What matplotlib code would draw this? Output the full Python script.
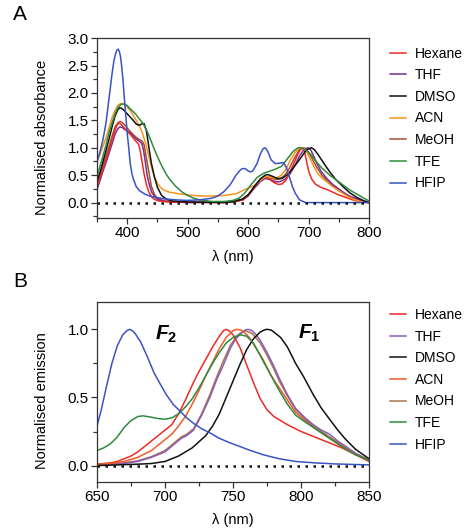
import numpy as np
import matplotlib
matplotlib.use("Agg")
import matplotlib.pyplot as plt
from matplotlib.ticker import MultipleLocator

plt.rcParams['font.family'] = ['Liberation Sans', 'DejaVu Sans']
plt.rcParams['mathtext.fontset'] = 'custom'
plt.rcParams['mathtext.rm'] = 'Liberation Sans'
plt.rcParams['mathtext.bf'] = 'Liberation Sans:bold'
plt.rcParams['mathtext.it'] = 'Liberation Sans:italic'
plt.rcParams['mathtext.bfit'] = 'Liberation Sans:bold:italic'

solvents = ['Hexane', 'THF', 'DMSO', 'ACN', 'MeOH', 'TFE', 'HFIP']
colors_abs = ['#ee2a24', '#7b2d92', '#111111', '#f7941d', '#a0522d', '#2e8b3e', '#3953c4']
colors_em = ['#ee2a24', '#8a5cb8', '#111111', '#f15a29', '#a8744a', '#2e8b3e', '#3953c4']

# ---- panel A: normalised absorbance (wavelength nm, value)
abs_hexane_x = [350, 355, 360, 365, 370, 375, 380, 383, 386, 390, 396, 402, 407, 412, 416, 419, 422, 425, 428, 432, 436, 440, 445, 452, 470, 560, 580, 592, 600, 610, 620, 625, 628, 632, 635, 642, 650, 656, 662, 668, 675, 682, 686, 690, 693, 696, 700, 705, 712, 720, 730, 740, 750, 760, 770, 780, 790, 800]
abs_hexane_y = [0.29, 0.45, 0.62, 0.79, 0.96, 1.15, 1.32, 1.41, 1.45, 1.43, 1.35, 1.28, 1.22, 1.15, 1.10, 1.06, 0.92, 0.72, 0.52, 0.32, 0.19, 0.11, 0.06, 0.03, 0.01, 0.0, 0.02, 0.05, 0.13, 0.28, 0.41, 0.45, 0.47, 0.46, 0.43, 0.37, 0.33, 0.34, 0.40, 0.52, 0.70, 0.88, 0.96, 1.0, 0.94, 0.79, 0.58, 0.43, 0.33, 0.28, 0.24, 0.19, 0.14, 0.10, 0.06, 0.03, 0.01, 0.0]

abs_thf_x = [350, 355, 360, 365, 370, 375, 380, 385, 388, 392, 395, 400, 405, 410, 415, 420, 424, 427, 430, 433, 437, 441, 446, 452, 465, 500, 575, 590, 600, 610, 620, 628, 636, 645, 652, 660, 668, 676, 685, 692, 696, 699, 703, 708, 713, 720, 730, 740, 752, 765, 779, 790, 800]
abs_thf_y = [0.23, 0.40, 0.57, 0.73, 0.90, 1.07, 1.25, 1.35, 1.38, 1.37, 1.34, 1.31, 1.27, 1.21, 1.16, 1.12, 1.08, 0.96, 0.74, 0.50, 0.31, 0.18, 0.10, 0.05, 0.02, 0.0, 0.01, 0.05, 0.12, 0.26, 0.38, 0.44, 0.42, 0.38, 0.38, 0.42, 0.50, 0.65, 0.85, 0.96, 0.99, 1.0, 0.97, 0.86, 0.73, 0.58, 0.44, 0.33, 0.23, 0.13, 0.07, 0.03, 0.0]

abs_dmso_x = [350, 355, 360, 365, 370, 375, 380, 385, 388, 392, 395, 400, 405, 410, 415, 420, 425, 428, 432, 436, 440, 445, 450, 457, 465, 475, 500, 560, 575, 590, 600, 610, 620, 628, 633, 640, 648, 656, 665, 672, 680, 688, 695, 700, 705, 710, 716, 725, 735, 745, 757, 768, 779, 790, 800]
abs_dmso_y = [0.38, 0.55, 0.75, 0.95, 1.16, 1.38, 1.58, 1.70, 1.73, 1.71, 1.68, 1.62, 1.56, 1.50, 1.43, 1.41, 1.44, 1.44, 1.30, 1.00, 0.72, 0.47, 0.28, 0.13, 0.06, 0.03, 0.01, 0.0, 0.02, 0.06, 0.14, 0.29, 0.43, 0.50, 0.51, 0.48, 0.44, 0.44, 0.51, 0.60, 0.71, 0.83, 0.94, 0.98, 1.0, 0.96, 0.87, 0.72, 0.56, 0.42, 0.29, 0.18, 0.10, 0.04, 0.0]

abs_acn_x = [350, 355, 360, 365, 370, 375, 380, 385, 390, 395, 400, 405, 410, 415, 420, 425, 430, 435, 440, 445, 450, 455, 460, 470, 480, 500, 520, 540, 560, 580, 595, 610, 620, 628, 635, 645, 655, 662, 670, 678, 685, 690, 695, 702, 708, 715, 722, 730, 740, 752, 765, 779, 790, 800]
abs_acn_y = [0.76, 0.88, 1.03, 1.18, 1.36, 1.55, 1.68, 1.78, 1.81, 1.79, 1.74, 1.68, 1.59, 1.50, 1.40, 1.27, 1.10, 0.88, 0.66, 0.47, 0.35, 0.28, 0.23, 0.19, 0.17, 0.14, 0.12, 0.12, 0.13, 0.16, 0.24, 0.31, 0.40, 0.47, 0.47, 0.44, 0.50, 0.60, 0.78, 0.92, 0.99, 1.0, 0.96, 0.82, 0.67, 0.53, 0.45, 0.38, 0.29, 0.20, 0.11, 0.04, 0.01, 0.0]

abs_meoh_x = [350, 355, 360, 365, 370, 375, 380, 385, 388, 392, 395, 400, 405, 410, 415, 420, 425, 428, 432, 436, 440, 445, 450, 460, 480, 570, 590, 600, 610, 620, 628, 636, 645, 652, 660, 668, 676, 684, 689, 692, 695, 698, 705, 713, 722, 732, 745, 757, 770, 785, 800]
abs_meoh_y = [0.33, 0.50, 0.68, 0.85, 1.02, 1.21, 1.38, 1.46, 1.48, 1.46, 1.43, 1.36, 1.30, 1.24, 1.19, 1.15, 1.12, 1.05, 0.80, 0.55, 0.30, 0.15, 0.08, 0.03, 0.01, 0.01, 0.06, 0.14, 0.28, 0.40, 0.46, 0.45, 0.42, 0.43, 0.49, 0.62, 0.80, 0.95, 0.99, 1.0, 0.98, 0.95, 0.82, 0.65, 0.50, 0.38, 0.27, 0.18, 0.10, 0.04, 0.0]

abs_tfe_x = [350, 355, 360, 365, 370, 375, 380, 385, 390, 395, 400, 405, 410, 415, 420, 425, 430, 435, 440, 445, 450, 455, 460, 465, 470, 480, 490, 500, 510, 520, 540, 560, 575, 585, 595, 605, 615, 625, 635, 645, 655, 665, 675, 680, 683, 687, 690, 697, 705, 713, 722, 735, 745, 757, 768, 779, 790, 800]
abs_tfe_y = [0.47, 0.66, 0.85, 1.05, 1.27, 1.45, 1.62, 1.74, 1.79, 1.80, 1.77, 1.71, 1.66, 1.60, 1.53, 1.46, 1.37, 1.25, 1.11, 0.97, 0.84, 0.72, 0.61, 0.51, 0.43, 0.30, 0.20, 0.13, 0.08, 0.05, 0.02, 0.02, 0.04, 0.08, 0.18, 0.33, 0.46, 0.53, 0.57, 0.61, 0.66, 0.80, 0.94, 0.98, 1.0, 1.0, 0.99, 0.95, 0.86, 0.74, 0.63, 0.50, 0.42, 0.32, 0.23, 0.16, 0.09, 0.03]

abs_hfip_x = [350, 355, 360, 365, 370, 375, 378, 381, 383, 385, 387, 389, 391, 393, 395, 398, 400, 403, 405, 408, 410, 415, 420, 430, 440, 460, 480, 500, 520, 540, 550, 560, 570, 580, 586, 590, 595, 600, 603, 607, 610, 615, 620, 624, 627, 630, 633, 638, 645, 652, 658, 663, 668, 673, 678, 685, 695, 800]
abs_hfip_y = [0.74, 0.92, 1.15, 1.45, 1.90, 2.35, 2.58, 2.72, 2.78, 2.80, 2.76, 2.66, 2.48, 2.25, 1.95, 1.55, 1.28, 0.95, 0.72, 0.52, 0.44, 0.29, 0.22, 0.15, 0.11, 0.07, 0.05, 0.04, 0.05, 0.08, 0.12, 0.20, 0.32, 0.50, 0.58, 0.62, 0.62, 0.58, 0.56, 0.57, 0.62, 0.72, 0.88, 0.97, 1.00, 0.98, 0.92, 0.78, 0.71, 0.72, 0.73, 0.65, 0.48, 0.30, 0.17, 0.05, 0.0, 0.0]

# ---- panel B: normalised emission
em_hexane_x = [650, 660, 665, 670, 675, 680, 685, 690, 695, 700, 705, 710, 715, 720, 725, 730, 735, 740, 743, 745, 747, 750, 755, 760, 765, 770, 775, 780, 785, 790, 800, 810, 820, 830, 840, 850]
em_hexane_y = [0.01, 0.02, 0.03, 0.05, 0.07, 0.10, 0.14, 0.18, 0.22, 0.26, 0.30, 0.38, 0.48, 0.59, 0.69, 0.78, 0.87, 0.95, 0.99, 1.0, 0.99, 0.96, 0.87, 0.74, 0.61, 0.49, 0.41, 0.36, 0.33, 0.30, 0.25, 0.21, 0.17, 0.13, 0.08, 0.03]

em_thf_x = [650, 670, 680, 690, 700, 706, 712, 716, 721, 727, 733, 738, 743, 748, 752, 756, 759, 761, 764, 767, 770, 775, 780, 784, 790, 796, 803, 809, 815, 821, 827, 833, 840, 850]
em_thf_y = [0.005, 0.015, 0.03, 0.06, 0.10, 0.15, 0.20, 0.22, 0.26, 0.37, 0.50, 0.63, 0.74, 0.86, 0.93, 0.97, 0.995, 1.0, 0.99, 0.96, 0.92, 0.83, 0.73, 0.64, 0.52, 0.42, 0.35, 0.30, 0.26, 0.23, 0.18, 0.14, 0.09, 0.04]

em_dmso_x = [650, 680, 690, 700, 710, 720, 730, 735, 740, 745, 750, 755, 760, 765, 770, 773, 775, 778, 780, 785, 790, 796, 802, 809, 815, 821, 827, 833, 840, 850]
em_dmso_y = [0.0, 0.01, 0.015, 0.03, 0.07, 0.13, 0.22, 0.29, 0.38, 0.50, 0.62, 0.74, 0.85, 0.93, 0.98, 0.995, 1.0, 0.995, 0.98, 0.94, 0.87, 0.75, 0.65, 0.52, 0.42, 0.34, 0.26, 0.19, 0.12, 0.05]

em_acn_x = [650, 660, 670, 680, 690, 700, 705, 710, 715, 720, 725, 730, 735, 740, 745, 750, 753, 757, 762, 767, 772, 778, 784, 790, 796, 803, 809, 815, 821, 830, 840, 850]
em_acn_y = [0.01, 0.015, 0.03, 0.06, 0.11, 0.19, 0.23, 0.29, 0.36, 0.45, 0.55, 0.66, 0.76, 0.86, 0.94, 0.99, 1.0, 0.99, 0.94, 0.86, 0.78, 0.66, 0.57, 0.48, 0.39, 0.33, 0.28, 0.24, 0.20, 0.14, 0.08, 0.04]

em_meoh_x = [650, 670, 680, 690, 700, 706, 712, 716, 721, 727, 733, 738, 743, 748, 752, 755, 759, 764, 770, 775, 780, 784, 790, 796, 803, 809, 815, 821, 830, 840, 850]
em_meoh_y = [0.008, 0.02, 0.035, 0.065, 0.11, 0.16, 0.21, 0.23, 0.27, 0.38, 0.52, 0.65, 0.77, 0.88, 0.94, 0.97, 0.99, 0.97, 0.90, 0.81, 0.71, 0.62, 0.51, 0.41, 0.34, 0.29, 0.25, 0.21, 0.15, 0.09, 0.04]

em_tfe_x = [650, 655, 660, 665, 670, 675, 680, 684, 690, 695, 700, 705, 710, 715, 720, 725, 730, 735, 740, 745, 750, 755, 760, 765, 772, 778, 784, 790, 796, 803, 809, 815, 821, 827, 833, 840, 850]
em_tfe_y = [0.11, 0.13, 0.16, 0.21, 0.28, 0.33, 0.36, 0.365, 0.355, 0.345, 0.34, 0.35, 0.38, 0.43, 0.49, 0.57, 0.66, 0.75, 0.83, 0.90, 0.94, 0.96, 0.95, 0.90, 0.77, 0.66, 0.55, 0.45, 0.37, 0.32, 0.28, 0.24, 0.20, 0.16, 0.12, 0.08, 0.04]

em_hfip_x = [650, 653, 657, 661, 665, 669, 672, 674, 676, 678, 682, 687, 692, 697, 701, 706, 711, 716, 721, 727, 733, 740, 747, 755, 763, 772, 784, 796, 810, 825, 850]
em_hfip_y = [0.29, 0.40, 0.58, 0.75, 0.88, 0.96, 0.99, 1.0, 0.99, 0.97, 0.91, 0.80, 0.68, 0.59, 0.52, 0.45, 0.40, 0.35, 0.31, 0.27, 0.24, 0.20, 0.17, 0.14, 0.11, 0.08, 0.05, 0.03, 0.02, 0.012, 0.005]

abs_data = [(abs_hexane_x, abs_hexane_y), (abs_thf_x, abs_thf_y), (abs_dmso_x, abs_dmso_y),
            (abs_acn_x, abs_acn_y), (abs_meoh_x, abs_meoh_y), (abs_tfe_x, abs_tfe_y),
            (abs_hfip_x, abs_hfip_y)]
em_data = [(em_hexane_x, em_hexane_y), (em_thf_x, em_thf_y), (em_dmso_x, em_dmso_y),
           (em_acn_x, em_acn_y), (em_meoh_x, em_meoh_y), (em_tfe_x, em_tfe_y),
           (em_hfip_x, em_hfip_y)]

# draw order: back to front like the original
order = [4, 1, 0, 3, 2, 5, 6]

fig = plt.figure(figsize=(4.66, 5.29), dpi=100)
axA = fig.add_axes([0.208, 0.588, 0.584, 0.340])
axB = fig.add_axes([0.208, 0.089, 0.584, 0.340])


def style_axis(ax):
    for s in ax.spines.values():
        s.set_linewidth(0.9)
        s.set_color('#333333')
    ax.tick_params(which='both', direction='out', width=0.9, color='#333333', labelsize=11, pad=1.5)
    ax.tick_params(which='major', length=4.5)
    ax.tick_params(which='minor', length=3)


leg_kw = dict(loc='upper left', frameon=False, fontsize=10, handlelength=1.15,
              handletextpad=0.65, labelspacing=0.55, borderaxespad=0, borderpad=0)

# panel A
for i in order:
    x, y = abs_data[i]
    axA.plot(x, y, color=colors_abs[i], lw=1.1)
axA.plot([350, 800], [0, 0], color='#111111', ls=(0, (1, 2.2)), lw=1.8)
axA.set_xlim(350, 800)
axA.set_ylim(-0.28, 3.0)
axA.xaxis.set_major_locator(MultipleLocator(100))
axA.xaxis.set_minor_locator(MultipleLocator(50))
axA.yaxis.set_major_locator(MultipleLocator(0.5))
axA.yaxis.set_minor_locator(MultipleLocator(0.25))
axA.yaxis.set_major_formatter(plt.FuncFormatter(lambda v, p: f'{v:.1f}'))
axA.set_ylabel('Normalised absorbance', fontsize=10.5)
axA.yaxis.set_label_coords(-0.175, 0.45)
axA.set_xlabel('λ (nm)', fontsize=10.5, labelpad=7)
style_axis(axA)
hA = [plt.Line2D([], [], color=colors_abs[i], lw=1.1) for i in range(7)]
fig.legend(hA, solvents, bbox_to_anchor=(0.836, 0.912), **leg_kw)

# panel B
for i in order:
    x, y = em_data[i]
    axB.plot(x, y, color=colors_em[i], lw=1.1)
axB.plot([650, 850], [0, 0], color='#111111', ls=(0, (1, 2.2)), lw=1.8)
axB.set_xlim(650, 850)
axB.set_ylim(-0.12, 1.2)
axB.xaxis.set_major_locator(MultipleLocator(50))
axB.xaxis.set_minor_locator(MultipleLocator(25))
axB.yaxis.set_major_locator(MultipleLocator(0.5))
axB.yaxis.set_minor_locator(MultipleLocator(0.25))
axB.yaxis.set_major_formatter(plt.FuncFormatter(lambda v, p: f'{v:.1f}'))
axB.set_ylabel('Normalised emission', fontsize=10.5)
axB.yaxis.set_label_coords(-0.175, 0.45)
axB.set_xlabel('λ (nm)', fontsize=10.5, labelpad=6)
style_axis(axB)
axB.text(701, 0.96, r'$\mathbfit{F}_{\mathbf{2}}$', fontsize=15, ha='center', va='center')
axB.text(806, 0.97, r'$\mathbfit{F}_{\mathbf{1}}$', fontsize=15, ha='center', va='center')
hB = [plt.Line2D([], [], color=colors_em[i], lw=1.1) for i in range(7)]
fig.legend(hB, solvents, bbox_to_anchor=(0.836, 0.418), **leg_kw)

fig.text(0.028, 0.972, 'A', fontsize=15, va='center', ha='left')
fig.text(0.028, 0.468, 'B', fontsize=15, va='center', ha='left')

fig.savefig('out.png', dpi=100)
